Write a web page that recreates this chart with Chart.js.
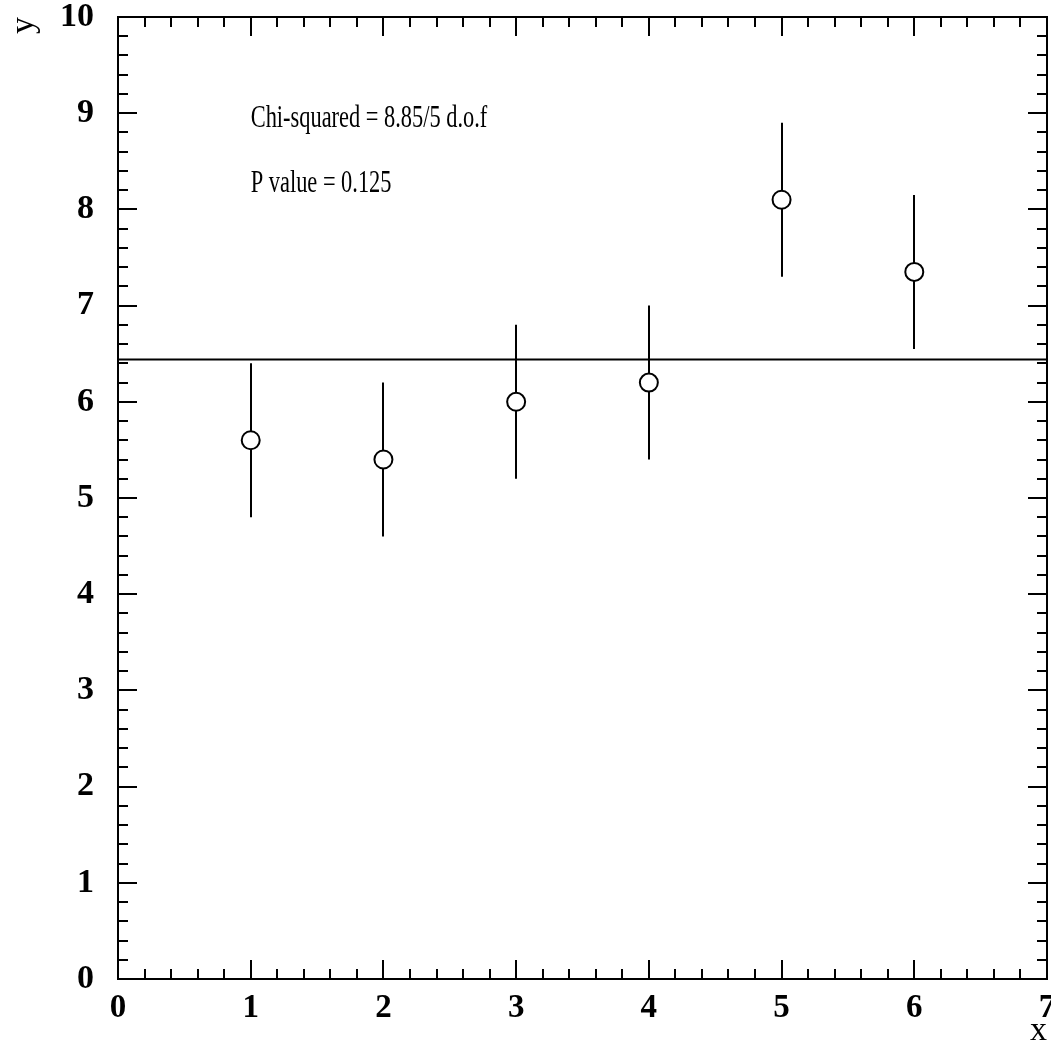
<!DOCTYPE html>
<html lang="en">
<head>
<meta charset="UTF-8">
<title>Chi-squared fit</title>
<style>
  html, body { margin: 0; padding: 0; background: #fff; }
  #wrap { width: 1051px; height: 1057px; }
</style>
</head>
<body>
<div id="wrap"><canvas id="chart"></canvas></div>
<script src="https://cdn.jsdelivr.net/npm/chart.js"></script>
<script>
  // measured points with symmetric errors
  const xValues = [1, 2, 3, 4, 5, 6];
  const yValues = [5.6, 5.4, 6.0, 6.2, 8.1, 7.35];
  const yErrors = [0.8, 0.8, 0.8, 0.8, 0.8, 0.8];
  // fitted constant
  const fitValue = 6.44;
  const fitRange = [0, 7];
  const infoLines = ["Chi-squared = 8.85/5 d.o.f", "P value = 0.125"];

  const serif = "'Liberation Serif', 'Times New Roman', serif";

  // error bars, drawn under the markers
  const errorBars = {
    id: "errorBars",
    beforeDatasetsDraw(chart) {
      const { ctx, scales: { x, y } } = chart;
      ctx.save();
      ctx.strokeStyle = "#000";
      ctx.lineWidth = 2;
      xValues.forEach((xv, i) => {
        const px = Math.round(x.getPixelForValue(xv));
        ctx.beginPath();
        ctx.moveTo(px, y.getPixelForValue(yValues[i] - yErrors[i]));
        ctx.lineTo(px, y.getPixelForValue(yValues[i] + yErrors[i]));
        ctx.stroke();
      });
      ctx.restore();
    }
  };

  // frame with inward ticks on all four sides
  const frame = {
    id: "frame",
    afterDraw(chart) {
      const { ctx, chartArea: a, scales: { x, y } } = chart;
      ctx.save();
      ctx.strokeStyle = "#000";
      ctx.lineWidth = 2;
      ctx.strokeRect(a.left, a.top, a.right - a.left, a.bottom - a.top);
      ctx.beginPath();
      for (let i = 0; i <= 35; i++) {
        const px = Math.round(x.getPixelForValue(i / 5));
        const len = i % 5 === 0 ? 19 : 10;
        ctx.moveTo(px, a.bottom); ctx.lineTo(px, a.bottom - len);
        ctx.moveTo(px, a.top); ctx.lineTo(px, a.top + len);
      }
      for (let i = 0; i <= 50; i++) {
        const py = Math.round(y.getPixelForValue(i / 5));
        const len = i % 5 === 0 ? 19 : 10;
        ctx.moveTo(a.left, py); ctx.lineTo(a.left + len, py);
        ctx.moveTo(a.right, py); ctx.lineTo(a.right - len, py);
      }
      ctx.stroke();

      // fit summary text
      ctx.fillStyle = "#000";
      ctx.font = "32px " + serif;
      ctx.textBaseline = "alphabetic";
      const tx = x.getPixelForValue(1.0);
      [8.86, 8.18].forEach((v, i) => {
        ctx.save();
        ctx.translate(tx, y.getPixelForValue(v));
        ctx.scale(0.7, 1);
        ctx.fillText(infoLines[i], 0, 0);
        ctx.restore();
      });
      ctx.restore();
    }
  };

  // fixed axis box sizes, no extra label padding
  function fixBox(s, size) {
    if (s.isHorizontal()) s.height = size; else s.width = size;
    s.paddingTop = 0; s.paddingBottom = 0; s.paddingLeft = 0; s.paddingRight = 0;
  }

  new Chart(document.getElementById("chart"), {
    type: "scatter",
    data: {
      datasets: [
        {
          label: "fit",
          type: "line",
          data: fitRange.map((xv) => ({ x: xv, y: fitValue })),
          borderColor: "#000",
          borderWidth: 2,
          pointRadius: 0,
          fill: false,
          order: 2,
        },
        {
          label: "data",
          data: xValues.map((xv, i) => ({ x: xv, y: yValues[i] })),
          pointRadius: 9,
          pointBackgroundColor: "#fff",
          pointBorderColor: "#000",
          pointBorderWidth: 2,
          order: 1,
        },
      ],
    },
    options: {
      responsive: true,
      maintainAspectRatio: false,
      animation: false,
      layout: { autoPadding: false, padding: { top: 17, right: 4, left: 0, bottom: 0 } },
      plugins: { legend: { display: false }, tooltip: { enabled: false } },
      scales: {
        x: {
          type: "linear",
          min: 0,
          max: 7,
          grid: { display: false, drawTicks: false },
          border: { display: false },
          ticks: { stepSize: 1, padding: 10, color: "#000", font: { family: serif, size: 33, weight: "bold" } },
          title: { display: true, text: "x", align: "end", color: "#000", padding: { top: 0, bottom: 6 }, font: { family: serif, size: 34 } },
          afterFit(s) { fixBox(s, 78); },
        },
        y: {
          type: "linear",
          min: 0,
          max: 10,
          grid: { display: false, drawTicks: false },
          border: { display: false },
          ticks: { stepSize: 1, padding: 24, color: "#000", font: { family: serif, size: 34, weight: "bold" } },
          title: { display: true, text: "y", align: "end", color: "#000", padding: { top: 4, bottom: 0 }, font: { family: serif, size: 34 } },
          afterFit(s) { fixBox(s, 118); },
        },
      },
    },
    plugins: [errorBars, frame],
  });
</script>
</body>
</html>
